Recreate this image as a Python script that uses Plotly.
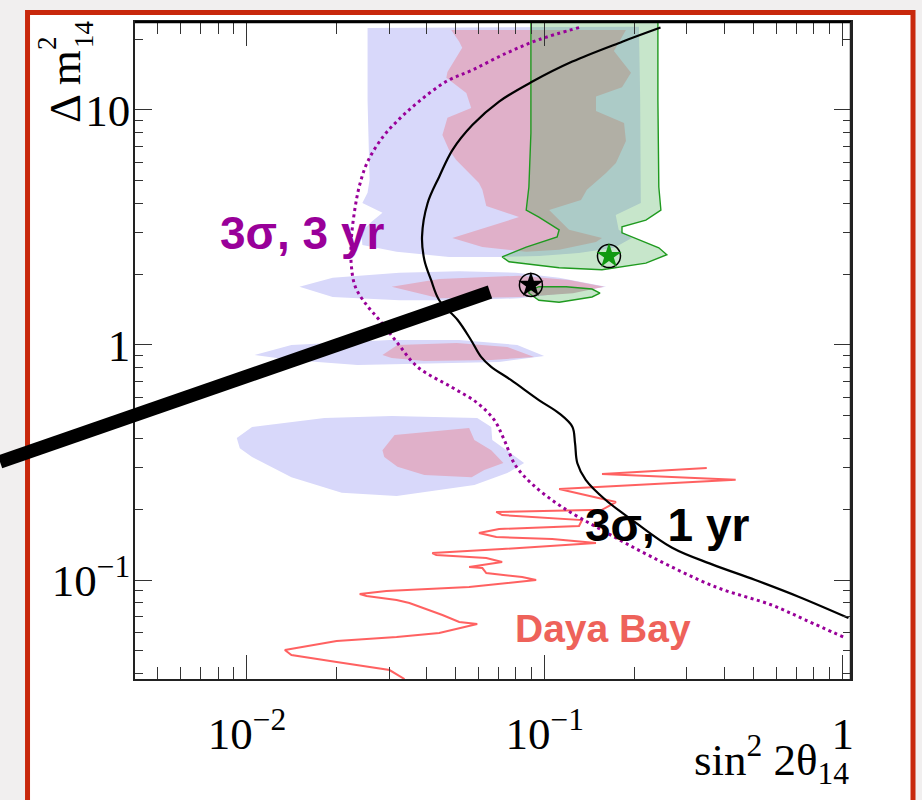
import plotly.graph_objects as go

# ---------------- data (sin^2 2theta14 , Delta m^2_14) ----------------
# light-blue allowed region (several islands)
blue_main_x = [0.0254, 0.207, 0.209, 0.210, 0.173, 0.177, 0.196, 0.171, 0.130, 0.0955, 0.0702,
               0.0477, 0.0318, 0.0244, 0.0242, 0.0262, 0.0285, 0.0244, 0.0254, 0.0258, 0.0254]
blue_main_y = [22.3, 22.6, 11.0, 4.02, 3.57, 3.09, 2.85, 2.59, 2.46, 2.39, 2.37,
               2.37, 2.49, 2.66, 3.03, 3.34, 3.65, 4.02, 4.44, 5.04, 11.0]
blue2_x = [0.0150, 0.0194, 0.0325, 0.0516, 0.0800, 0.1117, 0.1605, 0.1117, 0.0819, 0.0516, 0.0325, 0.0194]
blue2_y = [1.77, 1.93, 2.03, 2.06, 2.03, 1.93, 1.77, 1.65, 1.58, 1.55, 1.55, 1.60]
blue3_x = [0.0106, 0.0141, 0.0301, 0.0516, 0.0808, 0.0995, 0.0702, 0.0506, 0.0235, 0.0141]
blue3_y = [0.907, 1.0, 1.05, 1.05, 1.0, 0.898, 0.847, 0.838, 0.822, 0.863]
blue4_x = [0.00924, 0.0104, 0.0182, 0.0306, 0.0593, 0.0661, 0.0666, 0.0852, 0.0748, 0.0580,
           0.0318, 0.0208, 0.0141, 0.0104, 0.00946]
blue4_y = [0.402, 0.448, 0.489, 0.499, 0.489, 0.448, 0.394, 0.315, 0.285, 0.254,
           0.228, 0.235, 0.274, 0.334, 0.364]

# pink allowed region
pink_main_x = [0.0485, 0.1872, 0.1706, 0.1947, 0.1816, 0.1485, 0.1485, 0.1845, 0.1872, 0.1733,
               0.1605, 0.1384, 0.1323, 0.1034, 0.1206, 0.1556, 0.1485, 0.1117, 0.0866, 0.0617,
               0.0489, 0.0626, 0.0819, 0.0636, 0.0617, 0.0601, 0.0504, 0.0477, 0.0453, 0.0471,
               0.0566, 0.0545, 0.0467, 0.0471, 0.0528, 0.0516]
pink_main_y = [21.9, 21.9, 17.8, 14.4, 12.5, 11.4, 9.90, 8.80, 7.38, 5.95,
               5.39, 4.57, 4.14, 3.75, 3.09, 2.85, 2.74, 2.54, 2.49, 2.61,
               2.85, 3.15, 3.50, 3.90, 4.57, 4.89, 6.12, 6.76, 7.83, 9.25,
               10.2, 11.8, 13.7, 14.5, 18.4, 19.5]
pink2_x = [0.0306, 0.0442, 0.0819, 0.1206, 0.158, 0.1243, 0.0819, 0.0442]
pink2_y = [1.77, 1.91, 1.97, 1.89, 1.77, 1.66, 1.60, 1.58]
pink3_x = [0.0285, 0.0320, 0.0506, 0.0748, 0.0921, 0.0661, 0.0394, 0.0306]
pink3_y = [0.907, 1.0, 1.02, 0.981, 0.889, 0.863, 0.855, 0.880]
pink4_x = [0.0285, 0.0313, 0.0557, 0.0580, 0.0661, 0.0726, 0.0626, 0.0568, 0.0394, 0.0320, 0.0289]
pink4_y = [0.357, 0.414, 0.443, 0.394, 0.357, 0.315, 0.294, 0.274, 0.280, 0.303, 0.334]

# green allowed region
green_main_x = [0.0898, 0.0898, 0.0884, 0.0866, 0.0955, 0.1117, 0.1100, 0.0866, 0.0719, 0.0758, 0.1117,
                0.1556, 0.2184, 0.2568, 0.2414, 0.1816, 0.1816, 0.2184, 0.2453, 0.2414, 0.2397, 0.2397]
green_main_y = [25.0, 7.98, 4.70, 3.75, 3.50, 3.09, 2.88, 2.61, 2.37, 2.26, 2.13,
                2.09, 2.23, 2.42, 2.59, 3.00, 3.18, 3.40, 3.75, 4.70, 11.0, 25.0]
green2_x = [0.0884, 0.0955, 0.1179, 0.1440, 0.1532, 0.1440, 0.1117, 0.0955, 0.0884]
green2_y = [1.70, 1.77, 1.77, 1.73, 1.66, 1.60, 1.52, 1.55, 1.66]

# Daya Bay exclusion contour
dayabay_x = [0.0338, 0.0301, 0.0200, 0.0141, 0.0134, 0.0200, 0.0318, 0.0442, 0.0593, 0.0516,
             0.0453, 0.0351, 0.0318, 0.0252, 0.0239, 0.0294, 0.0557, 0.0935, 0.0839, 0.0636,
             0.0617, 0.0557, 0.0719, 0.0636, 0.0432, 0.0419, 0.0719, 0.1485, 0.1058, 0.0687,
             0.0601, 0.0702, 0.1303, 0.1333, 0.0719, 0.0687, 0.1556, 0.1733, 0.1463, 0.1117,
             0.4373, 0.1556, 0.3497]
dayabay_y = [0.0379, 0.0414, 0.0448, 0.0480, 0.0504, 0.0550, 0.0572, 0.0595, 0.0650, 0.0663,
             0.0710, 0.0798, 0.0822, 0.0855, 0.0872, 0.0898, 0.0934, 0.100, 0.1030, 0.1071,
             0.1125, 0.1136, 0.1193, 0.1241, 0.1278, 0.1303, 0.1355, 0.1437, 0.1494, 0.1524,
             0.1585, 0.1648, 0.1698, 0.180, 0.1890, 0.1948, 0.199, 0.2147, 0.2255, 0.2438,
             0.267, 0.2825, 0.2996]

# 3 sigma, 3 yr sensitivity (dotted)
sens3_x = [0.1303, 0.0955, 0.0740, 0.0572, 0.0466, 0.0379, 0.0325, 0.0286, 0.0254, 0.0239,
           0.0230, 0.0224, 0.0224, 0.0231, 0.0252, 0.0278, 0.0320, 0.0374, 0.0485, 0.0593,
           0.0676, 0.0731, 0.0795, 0.0913, 0.1143, 0.1556, 0.2288, 0.3749, 0.5775, 0.7504, 1.006]
sens3_y = [22.4, 19.9, 17.4, 14.8, 13.2, 10.9, 9.16, 7.68, 6.01, 4.80,
           3.75, 2.80, 2.19, 1.77, 1.48, 1.28, 1.02, 0.806, 0.663, 0.567,
           0.480, 0.394, 0.309, 0.254, 0.2045, 0.163, 0.1253, 0.0934, 0.0783, 0.0676, 0.0572]

# 3 sigma, 1 yr sensitivity (solid)
sens1_x = [0.2446, 0.1820, 0.1237, 0.0909, 0.0702, 0.0572, 0.0490, 0.0442, 0.0404, 0.0387,
           0.0394, 0.0415, 0.0442, 0.0509, 0.0565, 0.0610, 0.0659, 0.0769, 0.0955, 0.1117,
           0.1237, 0.1263, 0.1286, 0.1372, 0.1601, 0.1966, 0.2676, 0.3643, 0.5091, 0.7111, 1.046]
sens1_y = [22.4, 19.5, 16.05, 13.2, 10.85, 8.64, 6.76, 5.20, 4.01, 2.89,
           2.30, 1.89, 1.55, 1.28, 1.05, 0.892, 0.809, 0.710, 0.583, 0.512,
           0.449, 0.382, 0.314, 0.267, 0.219, 0.180, 0.1372, 0.1166, 0.100, 0.0849, 0.0689]

# best-fit points
best_x = [0.0898, 0.1642]
best_y = [1.80, 2.39]
best_colors = ["black", "#119911"]

x_ticks = [0.01, 0.1, 1]
x_ticklabels = ["10<sup>−2</sup>", "10<sup>−1</sup>", "1"]
y_ticks = [0.1, 1, 10]
y_ticklabels = ["10<sup>−1</sup>", "1", "10"]

SERIF = "Liberation Serif, Times New Roman, serif"
SANS = "Liberation Sans, Arial, sans-serif"


def join(polys):
    X, Y = [], []
    for xs, ys in polys:
        if X:
            X.append(None)
            Y.append(None)
        X += list(xs) + [xs[0]]
        Y += list(ys) + [ys[0]]
    return X, Y


bx, by = join([(blue_main_x, blue_main_y), (blue2_x, blue2_y), (blue3_x, blue3_y), (blue4_x, blue4_y)])
px_, py_ = join([(pink_main_x, pink_main_y), (pink2_x, pink2_y), (pink3_x, pink3_y), (pink4_x, pink4_y)])
gx, gy = join([(green_main_x, green_main_y), (green2_x, green2_y)])

fig = go.Figure()
fig.add_trace(go.Scatter(x=bx, y=by, mode="lines", fill="toself", fillcolor="#d8d8fa",
                         line=dict(width=0, color="#d8d8fa"), hoverinfo="skip", showlegend=False))
fig.add_trace(go.Scatter(x=px_, y=py_, mode="lines", fill="toself", fillcolor="#e0b0c9",
                         line=dict(width=0, color="#e0b0c9"), hoverinfo="skip", showlegend=False))
fig.add_trace(go.Scatter(x=gx, y=gy, mode="lines", fill="toself", fillcolor="rgba(70,172,84,0.30)",
                         line=dict(width=1.4, color="#1f9a1f"), hoverinfo="skip", showlegend=False))
fig.add_trace(go.Scatter(x=dayabay_x, y=dayabay_y, mode="lines",
                         line=dict(width=2, color="rgba(255,80,80,0.9)"), showlegend=False))
fig.add_trace(go.Scatter(x=sens3_x, y=sens3_y, mode="lines", line_shape="spline",
                         line=dict(width=3, color="#990099", dash="3px,3.5px"), showlegend=False))
fig.add_trace(go.Scatter(x=sens1_x, y=sens1_y, mode="lines", line_shape="spline",
                         line=dict(width=2.2, color="black"), showlegend=False))
fig.add_trace(go.Scatter(x=best_x, y=best_y, mode="markers",
                         marker=dict(symbol="circle-open", size=23, color="black", line=dict(width=1.5)),
                         showlegend=False))
fig.add_trace(go.Scatter(x=best_x, y=best_y, mode="markers",
                         marker=dict(symbol="star", size=19, color=best_colors, line=dict(width=0)),
                         showlegend=False))

axis_common = dict(type="log", ticks="inside", tickwidth=1.3, tickcolor="#333",
                   showline=True, linecolor="#222", linewidth=1.5, mirror="allticks",
                   showgrid=False, zeroline=False,
                   tickfont=dict(family=SERIF, size=45, color="black"))

fig.update_xaxes(range=[-2.376, 0.028], ticklen=24, ticklabelstandoff=14,
                 minor=dict(ticks="inside", ticklen=12, tickwidth=1.3, tickcolor="#333", dtick="D1", showgrid=False),
                 tickvals=x_ticks, ticktext=x_ticklabels, **axis_common)
fig.update_yaxes(range=[-1.421, 1.374], ticklen=17, ticklabelstandoff=-6,
                 minor=dict(ticks="inside", ticklen=8, tickwidth=1.3, tickcolor="#333", dtick="D1", showgrid=False),
                 tickvals=y_ticks, ticktext=y_ticklabels, **axis_common)

shapes = [
    # slide frame
    dict(type="rect", xref="paper", yref="paper", x0=-0.1501, x1=1.0866, y0=-0.25, y1=1.0145,
         line=dict(color="#c8280c", width=5), fillcolor="white", layer="below"),
    # thicker top / right frame lines
    dict(type="line", xref="paper", yref="paper", x0=0, x1=1, y0=1, y1=1, line=dict(color="black", width=2.5)),
    dict(type="line", xref="paper", yref="paper", x0=1, x1=1, y0=0, y1=1, line=dict(color="#222", width=2.5)),
    # pointer bar
    dict(type="line", xref="paper", yref="paper", x0=-0.18855, y0=0.3303, x1=0.49581, y1=0.58904,
         line=dict(color="black", width=13.5)),
]

annotations = [
    dict(text="<b>3σ, 3 yr</b>", xref="paper", yref="paper", x=0.1159, y=0.6788, xanchor="left",
         yanchor="middle", showarrow=False, font=dict(family=SANS, size=46, color="#990099")),
    dict(text="<b>3σ, 1 yr</b>", xref="paper", yref="paper", x=0.6257, y=0.2344, xanchor="left",
         yanchor="middle", showarrow=False, font=dict(family=SANS, size=46, color="black")),
    dict(text="<b>Daya Bay</b>", xref="paper", yref="paper", x=0.5279, y=0.0776, xanchor="left",
         yanchor="middle", showarrow=False, font=dict(family=SANS, size=39, color="#ee625a")),
    # x-axis title
    dict(text="sin<sup>2</sup> 2θ<sub>14</sub>", xref="paper", yref="paper", x=1.0, y=-0.0715,
         xanchor="right", yanchor="top", showarrow=False, font=dict(family=SERIF, size=45, color="black")),
    # y-axis title (Δ m, superscript 2 and subscript 14 stacked)
    dict(text="Δ m", xref="paper", yref="paper", x=-0.0978, y=0.9026, textangle=-90,
         xanchor="center", yanchor="middle", showarrow=False, font=dict(family=SERIF, size=45, color="black")),
    dict(text="2", xref="paper", yref="paper", x=-0.1222, y=0.9673, textangle=-90,
         xanchor="center", yanchor="middle", showarrow=False, font=dict(family=SERIF, size=27, color="black")),
    dict(text="14", xref="paper", yref="paper", x=-0.0705, y=0.981, textangle=-90,
         xanchor="center", yanchor="middle", showarrow=False, font=dict(family=SERIF, size=27, color="black")),
]

fig.update_layout(width=922, height=800, margin=dict(l=135, r=71, t=22, b=121, pad=0),
                  paper_bgcolor="#f1efef", plot_bgcolor="white", showlegend=False,
                  shapes=shapes, annotations=annotations)

fig.write_html("out.html")
